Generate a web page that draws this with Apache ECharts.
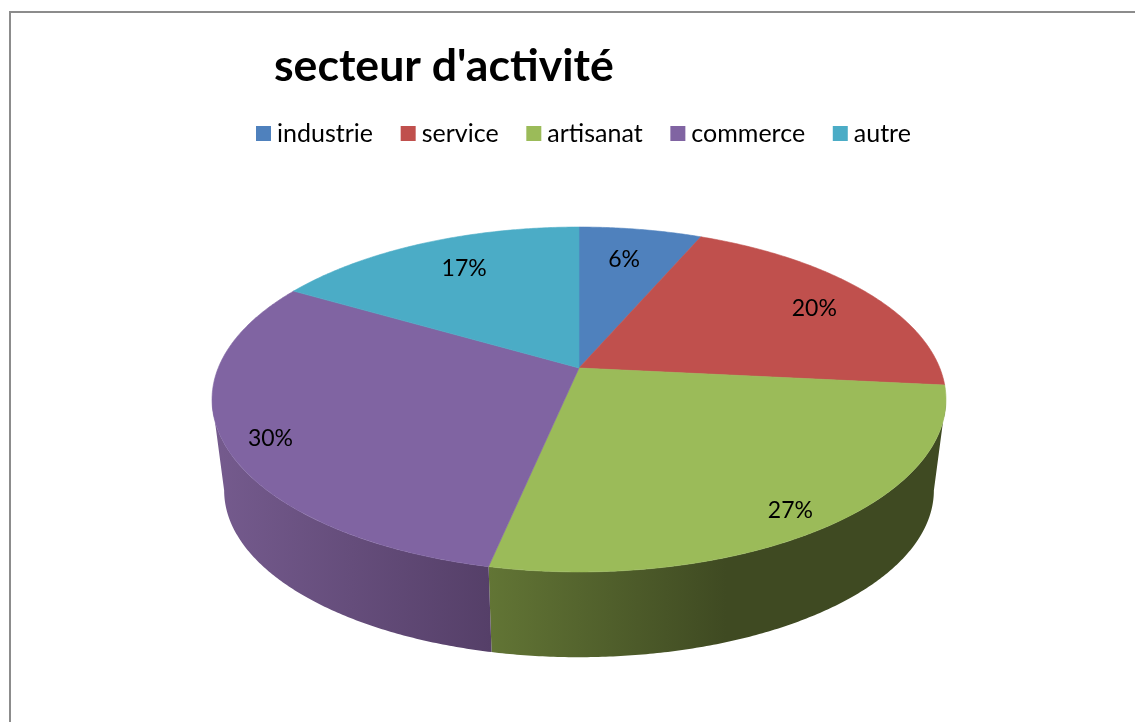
<!DOCTYPE html>
<html><head><meta charset="utf-8">
<style>html,body{margin:0;padding:0;background:#fff}#c{width:1135px;height:722px}</style>
<script src="https://cdn.jsdelivr.net/npm/echarts@6/dist/echarts.min.js"></script>
</head><body><div id="c"></div>
<script>
const titleText = "secteur d'activité";
const categories = ['industrie', 'service', 'artisanat', 'commerce', 'autre'];
const shares = [6.45, 20.15, 26.7, 30.1, 16.6];
const colors = ['#4f81bd', '#c0504d', '#9bbb59', '#8064a2', '#4bacc6'];
const wallLight = ['#3f6797', '#9a403e', '#627535', '#755b8e', '#3c8a9e'];
const wallDark = ['#2f4d71', '#6f2e2c', '#3f4a22', '#553f68', '#2d6777'];
const FONT = 'Lato, "Open Sans", sans-serif';

// Projection of the tilted disc (perspective circle)
const CX = 579, TOP_Y = 368, A = 360.8, B = 166.7, K = 0.1826;
const BASE_Y = 460, BASE_S = 0.967;
const labelNudge = [[-3, 0], [8, 2], [-3, 7], [-10, 9], [7, -1]];
const total = shares.reduce((a, b) => a + b, 0);
const SIL_A = Math.acos(-K) * 180 / Math.PI; // silhouette angle, right side
function proj(deg, r, s, yc) {
  const t = deg * Math.PI / 180, u = Math.sin(t) * r, v = -Math.cos(t) * r, d = 1 - K * v;
  return [CX + s * A * u / d, yc + s * B * v / d];
}
function arc(a0, a1, s, yc) {
  const pts = [], n = Math.max(2, Math.ceil(Math.abs(a1 - a0) / 0.5));
  for (let i = 0; i <= n; i++) pts.push(proj(a0 + (a1 - a0) * i / n, 1, s, yc));
  return pts;
}
function renderSlice(idx, params, api) {
  const before = shares.slice(0, idx).reduce((a, b) => a + b, 0);
  const value = api.value(0);
  const a0 = before / total * 360, a1 = (before + value) / total * 360;
  const kids = [];
  const w0 = Math.max(a0, SIL_A), w1 = Math.min(a1, 360 - SIL_A);
  if (w1 > w0) {
    const top = arc(w0, w1, 1, TOP_Y), bot = arc(w0, w1, BASE_S, BASE_Y).reverse();
    const xs = top.concat(bot).map(p => p[0]);
    const xMin = Math.min.apply(null, xs), xMax = Math.max.apply(null, xs);
    const rightSide = (w0 + w1) / 2 < 180;
    const stops = rightSide
      ? [{offset: 0, color: wallLight[idx]}, {offset: 0.52, color: wallDark[idx]}, {offset: 1, color: wallDark[idx]}]
      : [{offset: 0, color: wallLight[idx]}, {offset: 1, color: wallDark[idx]}];
    kids.push({type: 'polygon', shape: {points: top.concat(bot)},
      style: {fill: new echarts.graphic.LinearGradient(xMin, 0, xMax, 0, stops, true)}});
  }
  const face = [[CX, TOP_Y]].concat(arc(a0, a1, 1, TOP_Y));
  kids.push({type: 'polygon', shape: {points: face},
    style: {fill: colors[idx], stroke: colors[idx], lineWidth: 0.6}});
  const mid = (a0 + a1) / 2;
  const lr = 0.82 - 0.07 * Math.cos(mid * Math.PI / 180);
  const p = proj(mid, lr, 1, TOP_Y);
  kids.push({type: 'text', z2: 10, style: {x: p[0] + labelNudge[idx][0], y: p[1] + labelNudge[idx][1],
    text: Math.round(value / total * 100) + '%',
    fill: '#000', font: '23px ' + FONT, align: 'center', verticalAlign: 'middle'}});
  return {type: 'group', children: kids};
}
const chart = echarts.init(document.getElementById('c'), null, {renderer: 'canvas'});
chart.setOption({
  animation: false,
  backgroundColor: '#fff',
  color: colors,
  title: {text: titleText, left: 274, top: 44, padding: 0,
    textStyle: {fontFamily: FONT, fontWeight: 'bold', fontSize: 44.6, color: '#000'}},
  legend: {left: 256, top: 121, padding: 0, itemWidth: 15, itemHeight: 15, itemGap: 27.7,
    icon: 'rect', data: categories, selectedMode: false,
    textStyle: {fontFamily: FONT, fontSize: 25, color: '#000', padding: [0, 0, 0, 1]}},
  graphic: [{type: 'rect', silent: true, z: -1, shape: {x: 10, y: 12, width: 1300, height: 900},
    style: {fill: 'transparent', stroke: '#8c8c8c', lineWidth: 2}}],
  series: categories.map((name, i) => ({
    type: 'custom', name: name, coordinateSystem: 'none',
    itemStyle: {color: colors[i]},
    data: [shares[i]],
    renderItem: (params, api) => renderSlice(i, params, api)
  }))
});
</script></body></html>
